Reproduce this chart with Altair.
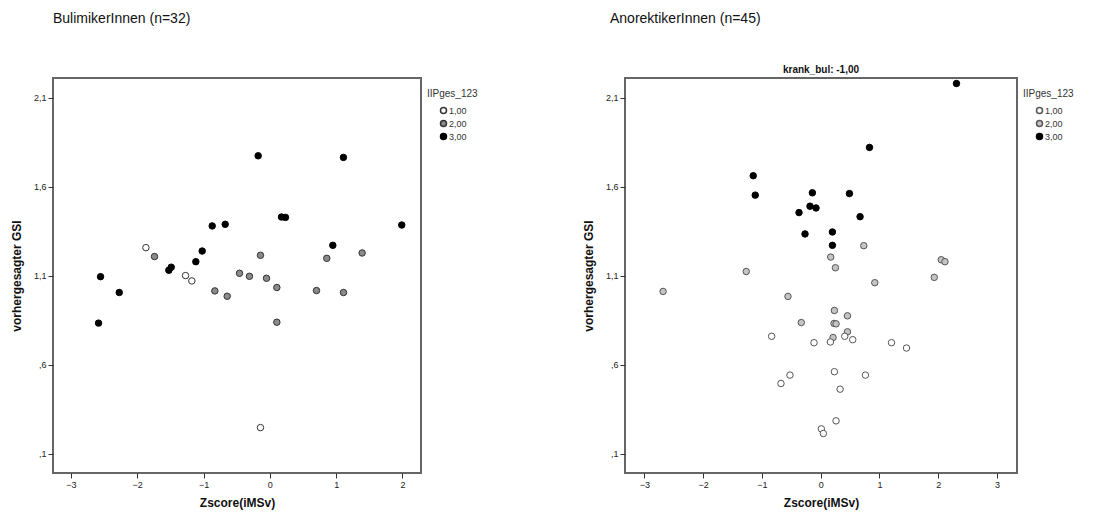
import altair as alt
import pandas as pd

# ---- data: BulimikerInnen (left panel) ----
bul_x = [-0.176, 1.11, 0.176, 0.236, -0.869, -0.673, 1.99, 0.95, -1.02, -1.116, -1.487, -1.523, -2.553, -2.271, -2.583,
         -1.739, -0.141, 0.859, 1.392, -0.457, -0.307, -0.05, 0.106, -0.829, -0.643, 0.704, 1.111, 0.106,
         -1.869, -1.271, -1.176, -0.141]
bul_y = [1.773, 1.764, 1.429, 1.427, 1.379, 1.388, 1.384, 1.270, 1.238, 1.178, 1.147, 1.130, 1.094, 1.005, 0.833,
         1.207, 1.214, 1.197, 1.227, 1.113, 1.096, 1.085, 1.033, 1.014, 0.984, 1.016, 1.005, 0.838,
         1.257, 1.100, 1.070, 0.246]
bul_g = ["3,00"] * 15 + ["2,00"] * 13 + ["1,00"] * 4

# ---- data: AnorektikerInnen (right panel) ----
ano_x = [2.31, 0.83, -1.148, -1.114, -0.142, 0.489, -0.182, -0.080, -0.369, 0.670, -0.267, 0.199, 0.199,
         0.733, 0.170, 0.250, 2.051, 2.114, -1.267, 1.932, 0.920, -2.682, -0.557, 0.233, 0.455, 0.227, 0.261,
         -0.330, 0.455, 0.210,
         -0.835, -0.114, 0.165, 0.409, 0.545, 1.205, 1.460, -0.676, -0.523, 0.233, 0.761, 0.330, 0.261, 0.011, 0.045]
ano_y = [2.179, 1.820, 1.661, 1.552, 1.565, 1.561, 1.490, 1.480, 1.454, 1.431, 1.334, 1.345, 1.270,
         1.268, 1.204, 1.144, 1.189, 1.178, 1.123, 1.090, 1.060, 1.011, 0.983, 0.904, 0.874, 0.831, 0.829,
         0.836, 0.784, 0.752,
         0.759, 0.723, 0.727, 0.759, 0.740, 0.723, 0.693, 0.494, 0.541, 0.560, 0.541, 0.462, 0.284, 0.239, 0.213]
ano_g = ["3,00"] * 13 + ["2,00"] * 17 + ["1,00"] * 15

groups = ["1,00", "2,00", "3,00"]
y_ticks = [0.1, 0.6, 1.1, 1.6, 2.1]
x_ticks = [-3, -2, -1, 0, 1, 2, 3]

FONT = "Liberation Sans"
y_label_expr = "replace(replace(format(datum.value, '.1f'), '0.', '.'), '.', ',')"
FRAME = alt.ViewConfig(stroke="#666666", strokeWidth=2)


def panel(df, width, height, xdom, fills, strokes, title, title_dx, title_offset, legend_x):
    x_enc = alt.X("x:Q", title="Zscore(iMSv)",
                  scale=alt.Scale(domain=xdom, nice=False, zero=False),
                  axis=alt.Axis(values=[t for t in x_ticks if xdom[0] <= t <= xdom[1]], format="d",
                                grid=False, domain=False, tickSize=5, tickColor="#333",
                                labelFontSize=9, labelColor="#222", labelPadding=2, labelFont=FONT,
                                titleFont=FONT, titleFontSize=12, titleFontWeight="bold",
                                titleColor="#111", titlePadding=8))
    y_enc = alt.Y("y:Q", title="vorhergesagter GSI",
                  scale=alt.Scale(domain=[-0.009, 2.21], nice=False, zero=False),
                  axis=alt.Axis(values=y_ticks, labelExpr=y_label_expr,
                                grid=False, domain=False, tickSize=5, tickColor="#333",
                                labelFontSize=9, labelColor="#222", labelPadding=2, labelFont=FONT,
                                titleFont=FONT, titleFontSize=12, titleFontWeight="bold",
                                titleColor="#111", titlePadding=10))
    leg = alt.Legend(title="IIPges_123", orient="none", legendX=legend_x, legendY=11,
                     titleFont=FONT, titleFontSize=10, titleFontWeight="normal", titleColor="#333",
                     labelFont=FONT, labelFontSize=9, labelColor="#333",
                     symbolType="circle", symbolSize=36, symbolOffset=12, rowPadding=0,
                     titlePadding=7, labelOffset=1)
    chart = alt.Chart(df).mark_circle(size=42, opacity=1, strokeWidth=1).encode(
        x=x_enc,
        y=y_enc,
        fill=alt.Fill("g:N", scale=alt.Scale(domain=groups, range=fills), legend=leg),
        stroke=alt.Stroke("g:N", scale=alt.Scale(domain=groups, range=strokes), legend=leg),
    ).properties(
        width=width, height=height,
        title=alt.TitleParams(title, anchor="start", frame="group", dx=title_dx, offset=title_offset,
                              fontSize=14, fontWeight="normal", font=FONT, color="#111"),
    )
    return chart


df_b = pd.DataFrame({"x": bul_x, "y": bul_y, "g": bul_g})
df_a = pd.DataFrame({"x": ano_x, "y": ano_y, "g": ano_g})

left = panel(df_b, 368, 395, [-3.27, 2.28],
             ["#ffffff", "#8a8a8a", "#000000"], ["#333333", "#333333", "#000000"],
             "BulimikerInnen (n=32)", 0, 52, 374).properties(view=FRAME)

right_pts = panel(df_a, 392, 395, [-3.33, 3.34],
                  ["#ffffff", "#c4c4c4", "#000000"], ["#555555", "#555555", "#000000"],
                  "AnorektikerInnen (n=45)", -15, 39, 398)

sub = alt.Chart(pd.DataFrame({"t": ["krank_bul: -1,00"]})).mark_text(
    font=FONT, fontSize=10, fontWeight="bold", color="#111", baseline="bottom"
).encode(text="t:N", x=alt.value(196), y=alt.value(-3))

right = alt.layer(right_pts, sub).properties(view=FRAME)

chart = alt.hconcat(left, right, spacing=102).resolve_scale(
    fill="independent", stroke="independent", x="independent", y="independent"
).resolve_legend(fill="independent", stroke="independent").configure_view(
    stroke="#666666", strokeWidth=2
).properties(padding={"left": 1, "top": 3, "right": 0, "bottom": 3}).configure(
    background="white"
)

chart.save("out.html", embed_options={"renderer": "svg", "actions": False})
